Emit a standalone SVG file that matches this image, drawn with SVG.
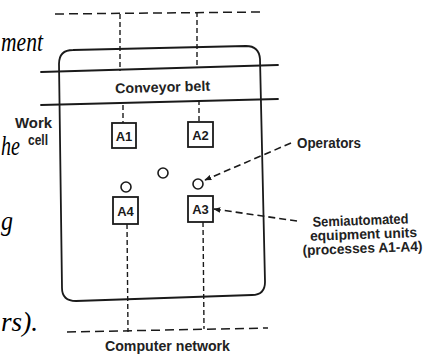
<svg xmlns="http://www.w3.org/2000/svg" width="431" height="355" viewBox="0 0 431 355">
<style>
.ln{stroke:#1a1a1a;stroke-width:1.8;fill:none;stroke-linecap:round}
.dash{stroke:#1a1a1a;stroke-width:1.5;fill:none;stroke-dasharray:9 5}
.vdash{stroke:#1a1a1a;stroke-width:1.4;fill:none;stroke-dasharray:5 3}
.adash{stroke:#1a1a1a;stroke-width:1.6;fill:none;stroke-dasharray:7 4}
.box{stroke:#1a1a1a;stroke-width:1.8;fill:#fff}
.op{stroke:#1a1a1a;stroke-width:1.6;fill:#fff}
.t{font-family:"Liberation Sans",Arial,sans-serif;font-weight:bold;fill:#222;font-size:14px}
.bl{font-family:"Liberation Sans",Arial,sans-serif;font-weight:bold;fill:#1a1a1a;font-size:13px;text-anchor:middle}
.it{font-family:"Liberation Serif","Times New Roman",serif;font-style:italic;fill:#000;font-size:27px}
</style>
<defs>
<marker id="ah" viewBox="0 0 10 10" refX="9" refY="5" markerWidth="7" markerHeight="7" orient="auto" markerUnits="userSpaceOnUse">
<path d="M0,1 L10,5 L0,9 Z" fill="#1a1a1a"/>
</marker>
</defs>
<rect width="431" height="355" fill="#fff"/>

<g id="page-text">
<text class="it" x="1" y="51" textLength="42" lengthAdjust="spacingAndGlyphs">ment</text>
<text class="it" x="1" y="155" textLength="19" lengthAdjust="spacingAndGlyphs">he</text>
<text class="it" x="1" y="230" textLength="12" lengthAdjust="spacingAndGlyphs">g</text>
<text class="it" x="1" y="331" textLength="37" lengthAdjust="spacingAndGlyphs">rs).</text>
</g>

<g id="workcell">
<path class="ln" d="M59,64 Q59,50 73,50 L246,46 Q259,46 260,59 L265,282 Q265,295 252,295 L76,301 Q62,301 62,288 Z"/>
<text class="t" x="15" y="128" textLength="37" lengthAdjust="spacingAndGlyphs">Work</text>
<text class="t" x="28" y="145" font-size="12" textLength="20" lengthAdjust="spacingAndGlyphs">cell</text>
</g>

<g id="conveyor">
<line class="ln" x1="41" y1="72" x2="278" y2="65"/>
<line class="ln" x1="41" y1="105" x2="278" y2="99"/>
<text class="t" x="115" y="92" font-size="15" textLength="95" lengthAdjust="spacingAndGlyphs" transform="rotate(-1.6 162 86)">Conveyor belt</text>
</g>

<g id="connectors">
<line class="dash" x1="55" y1="14" x2="260" y2="12"/>
<line class="vdash" x1="120" y1="14" x2="120" y2="71"/>
<line class="vdash" x1="197" y1="12" x2="197" y2="66"/>
<line class="vdash" x1="123" y1="105" x2="123" y2="123"/>
<line class="vdash" x1="199" y1="100" x2="199" y2="122"/>
<line class="vdash" x1="127" y1="224" x2="128" y2="332"/>
<line class="vdash" x1="203" y1="222" x2="204" y2="329"/>
<line class="dash" x1="67" y1="332" x2="268" y2="328"/>
<line class="adash" x1="291" y1="143" x2="205" y2="180" marker-end="url(#ah)"/>
<line class="adash" x1="297" y1="221" x2="214" y2="209" marker-end="url(#ah)"/>
</g>

<g id="A1">
<rect class="box" x="112" y="123" width="24" height="25"/>
<text class="bl" x="124" y="140.5">A1</text>
</g>
<g id="A2">
<rect class="box" x="188" y="122" width="25" height="25"/>
<text class="bl" x="200.5" y="139.5">A2</text>
</g>
<g id="A4">
<rect class="box" x="113" y="197" width="25" height="27"/>
<text class="bl" x="125.5" y="215.5">A4</text>
</g>
<g id="A3">
<rect class="box" x="188" y="196" width="25" height="26"/>
<text class="bl" x="200.5" y="214">A3</text>
</g>

<g id="operators">
<circle class="op" cx="163" cy="173" r="5"/>
<circle class="op" cx="126" cy="187" r="5"/>
<circle class="op" cx="198" cy="184" r="5"/>
</g>

<g id="labels">
<text class="t" x="297" y="148" textLength="64" lengthAdjust="spacingAndGlyphs">Operators</text>
<g transform="rotate(-2 362 235)">
<text class="t" x="313" y="225" textLength="96" lengthAdjust="spacingAndGlyphs">Semiautomated</text>
<text class="t" x="310" y="239" textLength="107" lengthAdjust="spacingAndGlyphs">equipment units</text>
<text class="t" x="302" y="253" font-size="13.5" textLength="120" lengthAdjust="spacingAndGlyphs">(processes A1-A4)</text>
</g>
<text class="t" x="105" y="351" textLength="125" lengthAdjust="spacingAndGlyphs">Computer network</text>
</g>
</svg>
